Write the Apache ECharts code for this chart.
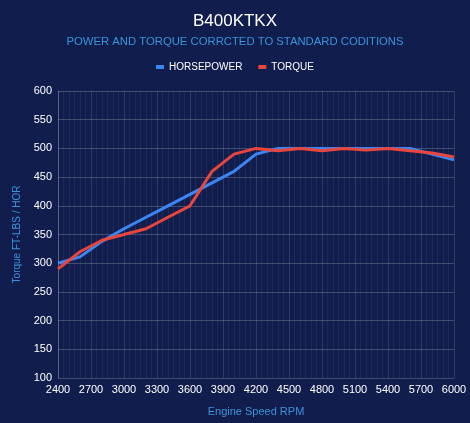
<!DOCTYPE html>
<html>
<head>
  <meta charset="utf-8">
  <script src="https://cdn.jsdelivr.net/npm/echarts/dist/echarts.min.js"></script>
  <style>
    html, body { margin: 0; padding: 0; background-color: #111e4d; }
  </style>
  <title>B400KTKX</title>

  <script type="text/javascript">

    // engine speed in rpm, one point every 200
    const rpm = [2400, 2600, 2800, 3000, 3200, 3400, 3600, 3800, 4000, 4200,
                 4400, 4600, 4800, 5000, 5200, 5400, 5600, 5800, 6000];
    const horsepower = [300, 311, 338, 360, 380, 400, 420, 440, 460, 490,
                        500, 500, 500, 500, 500, 500, 500, 490, 480];
    const torque = [290, 320, 340, 350, 360, 380, 400, 460, 490, 500,
                    496, 500, 496, 500, 497, 500, 496, 492, 485];

    function pairs(ys) {
      return rpm.map((x, i) => [x, ys[i]]);
    }

    function init() {
      const chart = echarts.init(document.getElementById('main'));
      const font = 'Liberation Sans, Arial, sans-serif';
      const option = {
        backgroundColor: '#111e4d',
        animation: false,
        textStyle: { fontFamily: font },
        title: {
          text: 'B400KTKX',
          subtext: 'POWER AND TORQUE CORRCTED TO STANDARD CODITIONS',
          left: 'center',
          top: 8,
          itemGap: 6,
          textStyle: { color: '#ffffff', fontSize: 17, fontWeight: 'normal', fontFamily: font },
          subtextStyle: { color: '#3b93da', fontSize: 11.3, fontFamily: font }
        },
        legend: {
          top: 57,
          left: 'center',
          itemWidth: 8,
          itemHeight: 4,
          itemGap: 16,
          icon: 'rect',
          textStyle: { color: '#ffffff', fontSize: 10, fontFamily: font },
          data: ['HORSEPOWER', 'TORQUE']
        },
        grid: { left: 58, right: 16, top: 91, bottom: 45 },
        xAxis: {
          type: 'value',
          min: 2400,
          max: 6000,
          interval: 300,
          name: 'Engine Speed RPM',
          nameLocation: 'middle',
          nameGap: 28,
          nameTextStyle: { color: '#3b93da', fontSize: 11 },
          axisLine: { show: false },
          axisTick: { show: false },
          axisLabel: { color: '#ffffff', fontSize: 11, margin: 6, formatter: v => String(v) },
          splitLine: { show: true, lineStyle: { color: 'rgba(255,255,255,0.13)' } },
          minorTick: { show: false, splitNumber: 6 },
          minorSplitLine: { show: true, lineStyle: { color: 'rgba(255,255,255,0.05)' } }
        },
        yAxis: {
          type: 'value',
          min: 100,
          max: 600,
          interval: 50,
          name: 'Torque FT-LBS / HOR',
          nameLocation: 'middle',
          nameGap: 35,
          nameTextStyle: { color: '#3b93da', fontSize: 10 },
          axisLine: { show: true, lineStyle: { color: 'rgba(255,255,255,0.2)' } },
          axisTick: { show: false },
          axisLabel: { color: '#ffffff', fontSize: 11, margin: 6 },
          splitLine: { lineStyle: { color: 'rgba(255,255,255,0.2)' } }
        },
        series: [
          {
            name: 'HORSEPOWER',
            type: 'line',
            data: pairs(horsepower),
            showSymbol: false,
            symbol: 'none',
            color: '#3d86f2',
            lineStyle: { width: 3, color: '#3d86f2' }
          },
          {
            name: 'TORQUE',
            type: 'line',
            data: pairs(torque),
            showSymbol: false,
            symbol: 'none',
            color: '#e8453c',
            lineStyle: { width: 3, color: '#e8453c' }
          }
        ]
      };
      chart.setOption(option);
    }
  </script>
</head>
<body onload="init()">
  <div id="main" style="width: 470px; height: 423px;"></div>
</body>
</html>
